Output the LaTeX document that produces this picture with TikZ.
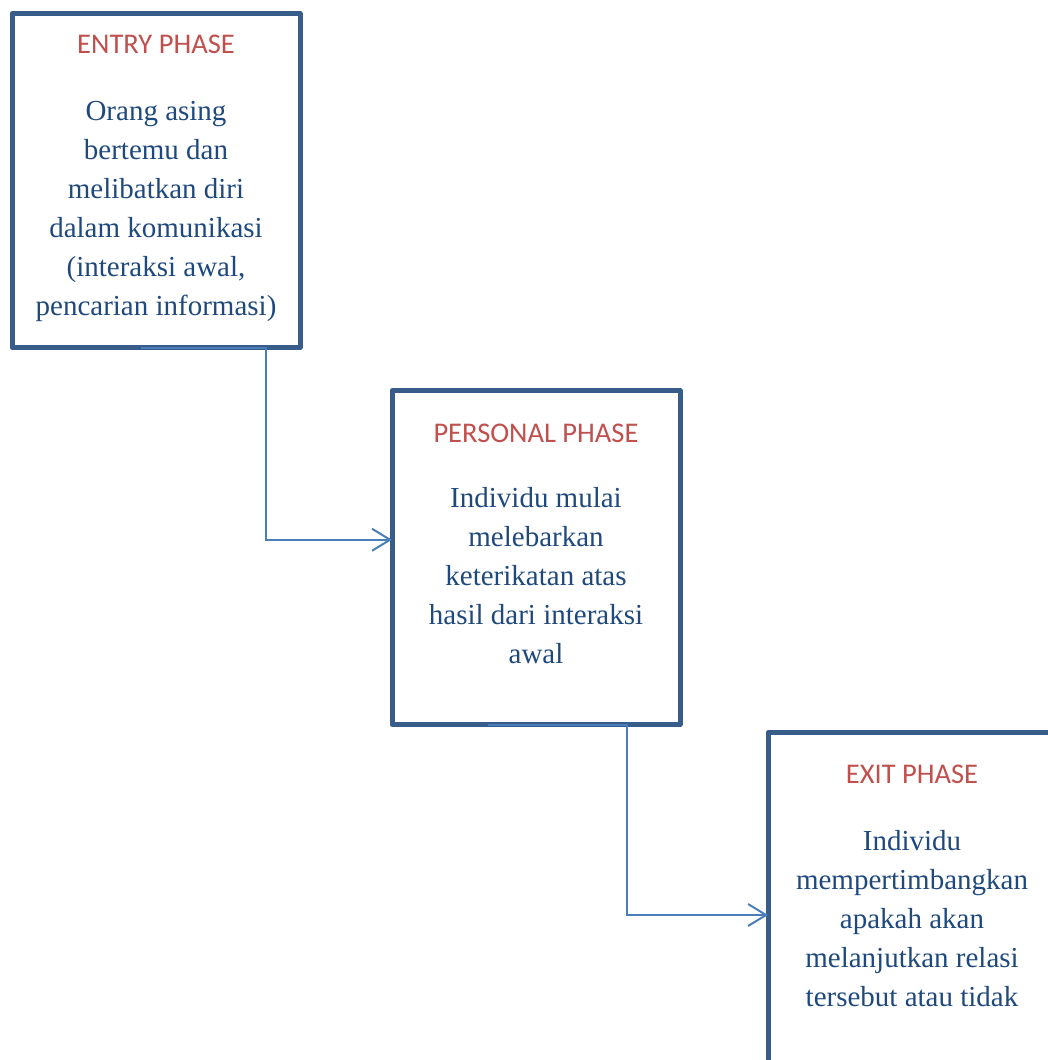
\documentclass[tikz,border=0pt]{standalone}
\usepackage{fontspec}
\setmainfont{Liberation Serif}
\newfontfamily\titlefont{Carlito}
\usetikzlibrary{arrows.meta}
\definecolor{boxline}{HTML}{385D8A}
\definecolor{flowline}{HTML}{4A7EBB}
\definecolor{titlered}{HTML}{C0504D}
\definecolor{textblue}{HTML}{1F497D}

\begin{document}
\begin{tikzpicture}[x=1pt, y=-1pt,
  phasebox/.style={draw=boxline, line width=5pt, line join=round,
    inner sep=0pt, outer sep=0pt, minimum width=288pt, minimum height=334pt},
  phasetitle/.style={anchor=base, inner sep=0pt, text=titlered,
    font=\titlefont\fontsize{28.5}{34}\selectfont},
  phasetext/.style={anchor=base, inner sep=0pt, align=center, text=textblue,
    font=\fontsize{29}{39}\selectfont},
  flow/.style={draw=flowline, line width=2pt,
    -{Straight Barb[length=18pt, width=22pt]}}]
\useasboundingbox (0,0) rectangle (1048,1060);
\clip (0,0) rectangle (1048,1060);

% phase boxes
\node[phasebox] (entry) at (156,180.5) {};
\node[phasebox] (personal) at (536,557.75) {};
\node[phasebox] (exit) at (912,899.5) {};

% entry phase (text nodes sit on the baseline of their last line)
\node[phasetitle] (entrytitle) at (156,53) {ENTRY PHASE};
\node[phasetext] (entrytext) at (156,315) {Orang asing\\ bertemu dan\\
  melibatkan diri\\ dalam komunikasi\\ (interaksi awal,\\ pencarian informasi)};

% personal phase
\node[phasetitle] (personaltitle) at (536,442) {PERSONAL PHASE};
\node[phasetext] (personaltext) at (536,663) {Individu mulai\\ melebarkan\\
  keterikatan atas\\ hasil dari interaksi\\ awal};

% exit phase
\node[phasetitle] (exittitle) at (912,783) {EXIT PHASE};
\node[phasetext] (exittext) at (912,1006) {Individu\\ mempertimbangkan\\
  apakah akan\\ melanjutkan relasi\\ tersebut atau tidak};

% connectors
\draw[flow] ([xshift=-15pt]entry.south) -- ++(125,0) |- ([yshift=18pt]personal.west);
\draw[flow] ([xshift=-48pt]personal.south) -- ++(139,0) |- ([yshift=-15.5pt]exit.west);

\end{tikzpicture}
\end{document}
